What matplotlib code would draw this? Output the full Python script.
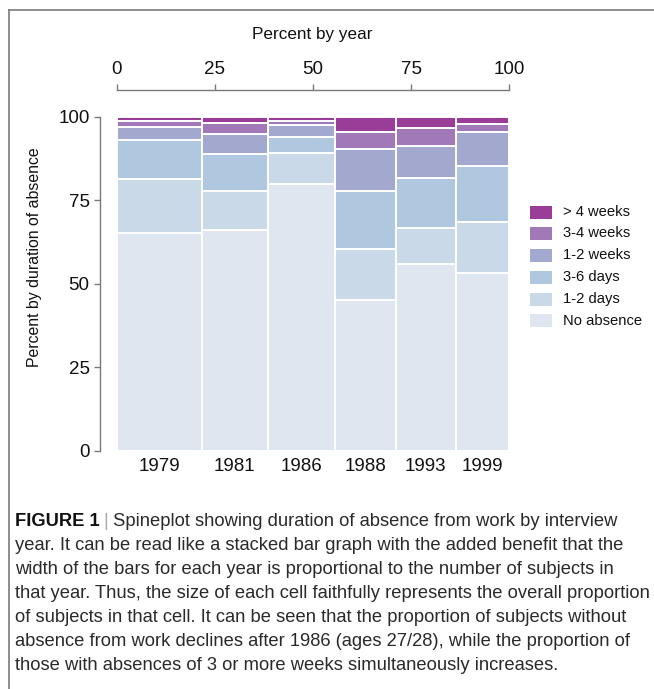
import matplotlib
matplotlib.use("Agg")
import matplotlib.pyplot as plt
import numpy as np
from matplotlib.patches import Rectangle
from matplotlib.lines import Line2D

plt.rcParams['font.family'] = ['Liberation Sans', 'DejaVu Sans']

years = ["1979", "1981", "1986", "1988", "1993", "1999"]
year_share = [21.7, 16.8, 17.1, 15.5, 15.2, 13.7]  # percent of subjects by year (bar widths)
categories = ["No absence", "1-2 days", "3-6 days", "1-2 weeks", "3-4 weeks", "> 4 weeks"]
no_absence = [65.1, 66.1, 79.9, 45.0, 56.0, 53.1]
days_1_2 = [16.2, 11.6, 9.1, 15.3, 10.8, 15.3]
days_3_6 = [11.7, 11.1, 5.0, 17.5, 14.9, 16.7]
weeks_1_2 = [4.0, 6.1, 3.5, 12.5, 9.4, 10.3]
weeks_3_4 = [1.8, 3.3, 1.1, 5.1, 5.5, 2.4]
weeks_gt4 = [1.2, 1.8, 1.4, 4.6, 3.4, 2.2]
series = [no_absence, days_1_2, days_3_6, weeks_1_2, weeks_3_4, weeks_gt4]
colors = ["#dfe6f0", "#c9d9e8", "#afc7df", "#a3a8cf", "#a178b8", "#9a3d98"]

W, H = 654, 689
fig = plt.figure(figsize=(W / 100, H / 100), dpi=100)

def fx(px):
    return px / W

def fy(py):
    return 1 - py / H

ax_l, ax_r, ax_t, ax_b = 116.7, 509.3, 116.7, 450.7
ax = fig.add_axes([fx(ax_l), fy(ax_b), fx(ax_r - ax_l), (ax_b - ax_t) / H])

# normalise widths
w = np.array(year_share, dtype=float)
w = w / w.sum() * 100
lefts = np.concatenate([[0], np.cumsum(w)[:-1]])
bottom = np.zeros(len(years))
for vals, col in zip(series, colors):
    v = np.array(vals, dtype=float)
    ax.bar(lefts, v, width=w, bottom=bottom, align='edge', color=col,
           edgecolor='white', linewidth=1.4)
    bottom += v

tick_fs = 13.5
ax.set_xlim(0, 100)
ax.set_ylim(0, 100)
for s in ['top', 'right', 'bottom']:
    ax.spines[s].set_visible(False)
ax.spines['left'].set_position(('outward', 12))
ax.spines['left'].set_color('#7a7a7a')
ax.spines['left'].set_linewidth(1.0)
ax.set_yticks([0, 25, 50, 75, 100])
ax.tick_params(axis='y', direction='out', length=4.5, width=1.0, color='#7a7a7a',
               labelsize=tick_fs, pad=3, labelcolor='#111111')
ax.set_xticks(lefts + w / 2)
ax.set_xticklabels(years)
ax.tick_params(axis='x', length=0, labelsize=tick_fs, pad=5, labelcolor='#111111')

ax2 = ax.twiny()
ax2.set_xlim(0, 100)
for s in ['bottom', 'right', 'left']:
    ax2.spines[s].set_visible(False)
ax2.spines['top'].set_position(('outward', 19.4))
ax2.spines['top'].set_color('#7a7a7a')
ax2.spines['top'].set_linewidth(1.0)
ax2.set_xticks([0, 25, 50, 75, 100])
ax2.tick_params(axis='x', direction='out', length=4.6, width=1.0, color='#7a7a7a',
                labelsize=tick_fs, pad=4, labelcolor='#111111')
ax2.patch.set_visible(False)

fig.text(fx(312.7), fy(34), "Percent by year", ha='center', va='center', fontsize=12.3, color='#111111')
fig.text(fx(35), fy(257), "Percent by duration of absence", ha='center', va='center',
         rotation=90, fontsize=11.4, color='#111111')

# legend
leg_y = [321, 299, 277, 255, 233, 212]
for cat, col, yy in zip(categories, colors, leg_y):
    fig.patches.append(Rectangle((fx(530), fy(yy + 6.5)), fx(21.5), 13 / H,
                                 transform=fig.transFigure, facecolor=col, edgecolor='none'))
    fig.text(fx(563), fy(yy), cat, ha='left', va='center', fontsize=10.6, color='#111111')

# frame
fig.add_artist(Line2D([fx(9), fx(654)], [fy(10), fy(10)], color='#7a7a7a', lw=1.2,
                      transform=fig.transFigure))
fig.add_artist(Line2D([fx(9), fx(9)], [fy(10), fy(689)], color='#7a7a7a', lw=1.2,
                      transform=fig.transFigure))

# caption
cap_lines = [
    " Spineplot showing duration of absence from work by interview",
    "year. It can be read like a stacked bar graph with the added benefit that the",
    "width of the bars for each year is proportional to the number of subjects in",
    "that year. Thus, the size of each cell faithfully represents the overall proportion",
    "of subjects in that cell. It can be seen that the proportion of subjects without",
    "absence from work declines after 1986 (ages 27/28), while the proportion of",
    "those with absences of 3 or more weeks simultaneously increases.",
]
cap_y = [521, 545, 570, 594, 618, 642, 666]
cap_fs = 13.2
cap_col = '#2a2a2a'
renderer = fig.canvas.get_renderer()
t0 = fig.text(fx(15), fy(cap_y[0]), "FIGURE 1", ha='left', va='center', fontsize=cap_fs,
              fontweight='bold', color='#111111')
bb = t0.get_window_extent(renderer=renderer)
t1 = fig.text(bb.x1 / W + fx(4), fy(cap_y[0]), "|", ha='left', va='center', fontsize=cap_fs,
              color='#aaaaaa')
bb1 = t1.get_window_extent(renderer=renderer)
fig.text(bb1.x1 / W, fy(cap_y[0]), cap_lines[0], ha='left', va='center', fontsize=cap_fs, color=cap_col)
for line, yy in zip(cap_lines[1:], cap_y[1:]):
    fig.text(fx(15), fy(yy), line, ha='left', va='center', fontsize=cap_fs, color=cap_col)

fig.savefig("out.png", dpi=100)
